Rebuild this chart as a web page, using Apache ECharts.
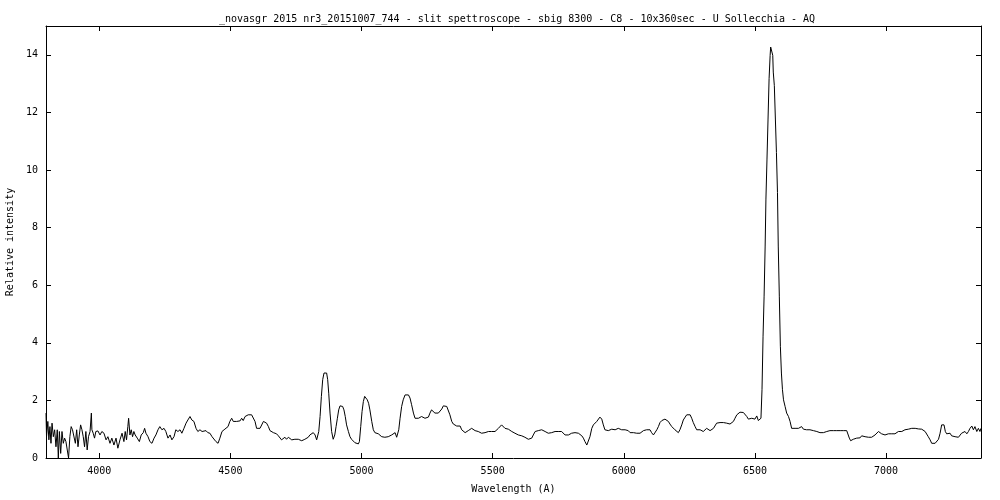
<!DOCTYPE html>
<html><head><meta charset="utf-8">
<script src="https://cdn.jsdelivr.net/npm/echarts/dist/echarts.min.js"></script>
<style>html,body{margin:0;padding:0;background:#fff}#c{width:1000px;height:500px}</style>
</head><body><div id="c"></div>
<script>
const titleText = "_novasgr 2015 nr3_20151007_744 - slit spettroscope - sbig 8300 - C8 - 10x360sec - U Sollecchia - AQ";
const xAxisName = "Wavelength (A)";
const yAxisName = "Relative intensity";
const xRange = [3797, 7362];
const yRange = [0, 15];

const wavelength = [
3797,3799,3804,3808,3812,3816,3820,3825,3830,3835,3840,3844,3848,3853,3858,3863,3868,3873,3878,3883,
3888,3893,3898,3904,3909,3914,3919,3924,3929,3934,3939,3944,3949,3954,3959,3965,3970,3972,3977,3982,
3987,3995,4003,4010,4018,4026,4033,4041,4048,4056,4064,4071,4079,4087,4094,4099,4104,4109,4112,4117,
4122,4127,4132,4137,4145,4153,4160,4168,4173,4178,4186,4193,4201,4209,4216,4224,4231,4239,4247,4254,
4262,4270,4277,4285,4292,4300,4308,4315,4323,4331,4338,4346,4353,4361,4369,4376,4384,4392,4399,4407,
4414,4422,4430,4437,4445,4453,4460,4468,4476,4483,4491,4498,
4505,4511,4517,4524,4530,4537,4543,4549,4556,4562,4568,4575,4581,4587,4594,4600,4606,4613,4619,4626,
4632,4638,4645,4651,4657,4664,4670,4676,4683,4689,4695,4702,4708,4714,4721,4727,4734,4740,4746,4753,
4759,4765,4772,4778,4784,4791,4797,4803,4810,4816,4823,4829,4833,4837,4842,4847,4852,4857,4862,4867,
4871,4875,4880,4886,4892,4898,4903,4908,4913,4918,4923,4928,4933,4938,4943,4950,4956,4962,4969,4975,
4981,4988,4992,4997,5002,5007,5012,5017,5022,5027,5032,5039,5045,5051,5058,5064,5070,5077,5083,5089,
5096,5102,5109,5115,5121,5128,5134,5138,5142,5147,5153,5159,5166,5172,5179,5185,5191,5198,
5204,5210,5217,5223,5229,5236,5242,5248,5255,5261,5267,5274,5280,5287,5293,5299,5306,5312,5318,5325,
5331,5337,5344,5350,5356,5363,5369,5376,5382,5388,5395,5401,5407,5414,5420,5426,5433,5439,5445,5452,
5458,5465,5471,5477,5484,5490,5496,5503,5509,5515,5522,5528,5534,5541,5547,5553,5560,5566,5573,5579,
5585,5592,5598,5604,5611,5617,5623,5630,5636,5642,5649,5655,5662,5668,5674,5681,5687,5693,5700,5706,
5712,5719,5725,5731,5738,5744,5750,5757,5763,5770,5776,5782,5789,5795,5801,5808,5814,5820,5827,5833,
5840,5846,5852,5859,5865,5871,5878,5884,5890,5897,5903,5909,5916,5922,
5928,5935,5941,5948,5954,5960,5967,5973,5979,5986,5992,5998,6005,6011,6017,6024,6030,6037,6043,6049,
6056,6062,6068,6075,6081,6087,6094,6100,6106,6113,6119,6126,6132,6138,6145,6151,6157,6164,6170,6176,
6183,6189,6195,6202,6208,6214,6221,6227,6234,6240,6246,6253,6259,6265,6272,6278,6284,6291,6297,6303,
6310,6316,6323,6329,6335,6342,6348,6354,6361,6367,6373,6380,6386,6392,6399,6405,6411,6418,6424,6431,
6437,6443,6450,6456,6462,6469,6475,6481,6488,6494,6500,6507,6513,
6520,6523,6527,6531,6535,6539,6542,6546,6550,6554,6558,6560,6563,6565,6568,6570,6574,6578,6582,6586,
6589,6593,6597,6601,6605,6609,6615,6621,6628,6634,
6640,6647,6653,6659,6666,6672,6678,6685,6691,6697,6704,6710,6717,6723,6729,6736,6742,6748,6755,6761,
6767,6774,6780,6786,6793,6799,6806,6812,6818,6825,6831,6837,6844,6850,6856,6860,6865,6870,6875,6882,
6888,6894,6901,6907,6914,6920,6926,6933,6939,6945,6952,6958,6964,6971,6977,6983,6990,6996,7002,7009,
7015,7022,7028,7034,7041,7047,7053,7060,7066,7072,7079,7085,7092,7098,7104,7111,7117,7123,7130,7136,
7142,7149,7155,7161,7168,7174,7180,7187,7193,7200,7206,7212,7216,7221,7226,7231,7238,7244,7250,7257,
7263,7269,7276,7282,7288,7295,7301,7308,7314,7320,7327,7333,7339,7346,7352,7358,7362
];

const intensity = [
1.56,0.74,1.27,0.63,1.09,0.51,1.21,0.74,0.98,0.39,0.98,0.00,0.92,0.16,0.92,0.51,0.69,0.57,0.63,0.00,
0.74,1.09,0.98,0.92,0.51,0.98,0.39,0.80,1.15,0.98,0.74,0.39,0.92,0.28,0.74,0.92,1.56,0.98,0.86,0.69,
0.92,0.94,0.80,0.92,0.86,0.63,0.74,0.51,0.69,0.45,0.69,0.34,0.63,0.86,0.57,0.92,0.63,1.09,1.38,0.80,
0.98,0.74,0.92,0.80,0.69,0.57,0.80,0.88,1.03,0.86,0.74,0.57,0.51,0.69,0.80,0.98,1.09,0.98,1.03,0.92,
0.69,0.80,0.63,0.74,0.98,0.92,0.98,0.86,1.03,1.21,1.32,1.44,1.32,1.27,1.03,0.92,0.98,0.92,0.94,0.95,
0.88,0.86,0.74,0.69,0.57,0.51,0.69,0.92,0.98,1.03,1.09,1.27,
1.38,1.27,1.32,1.27,1.32,1.29,1.38,1.30,1.44,1.46,1.50,1.46,1.50,1.44,1.27,1.03,0.98,1.03,0.98,1.27,
1.29,1.21,1.09,0.95,0.92,0.88,0.86,0.84,0.77,0.72,0.63,0.57,0.72,0.65,0.72,0.69,0.63,0.69,0.65,0.60,
0.65,0.63,0.60,0.65,0.65,0.69,0.72,0.80,0.86,0.88,0.80,0.63,0.57,0.92,1.44,2.14,2.72,2.95,3.01,2.95,
2.72,2.25,1.56,0.92,0.65,0.80,1.09,1.38,1.67,1.81,1.85,1.79,1.67,1.44,1.15,0.92,0.74,0.65,0.59,0.53,
0.51,0.49,0.57,1.09,1.61,1.96,2.14,2.11,2.02,1.90,1.67,1.27,0.98,0.88,0.86,0.84,0.80,0.74,0.77,0.72,
0.77,0.74,0.77,0.80,0.84,0.88,0.72,0.69,0.98,1.38,1.79,2.02,2.19,2.25,2.19,2.08,1.85,1.56,
1.38,1.32,1.38,1.35,1.44,1.42,1.38,1.32,1.42,1.56,1.67,1.65,1.56,1.50,1.56,1.53,1.70,1.81,1.82,1.79,
1.73,1.50,1.27,1.18,1.15,1.11,1.09,1.11,0.98,0.92,0.88,0.92,0.95,0.98,1.03,0.98,0.95,0.98,0.92,0.88,
0.86,0.88,0.88,0.88,0.92,0.92,0.92,0.88,0.92,0.98,1.03,1.09,1.15,1.11,1.03,0.98,1.00,0.95,0.92,0.95,
0.86,0.88,0.80,0.84,0.77,0.80,0.72,0.74,0.65,0.60,0.69,0.80,0.92,0.98,0.95,0.98,0.98,0.98,0.92,0.95,
0.86,0.84,0.88,0.86,0.92,0.88,0.92,0.94,0.92,0.86,0.80,0.84,0.80,0.84,0.86,0.86,0.88,0.84,0.86,0.88,
0.77,0.69,0.57,0.45,0.51,0.74,1.03,1.15,1.15,1.27,1.32,1.42,1.35,1.15,
0.98,1.03,0.95,0.98,1.00,0.95,0.98,1.00,1.03,1.00,0.98,1.01,0.98,0.92,0.95,0.88,0.92,0.88,0.92,0.86,
0.88,0.86,0.92,0.95,0.92,0.98,0.95,0.98,0.88,0.80,0.86,0.98,1.09,1.23,1.30,1.35,1.35,1.30,1.27,1.18,
1.09,1.03,0.98,0.92,0.88,0.98,1.15,1.32,1.42,1.50,1.53,1.50,1.38,1.23,1.09,0.98,1.00,0.98,0.95,0.92,
0.95,1.03,1.07,0.95,0.98,1.03,1.09,1.21,1.24,1.23,1.25,1.23,1.24,1.21,1.23,1.18,1.23,1.27,1.38,1.50,
1.56,1.59,1.59,1.58,1.56,1.44,1.35,1.32,1.38,1.32,1.35,1.46,1.30,
1.27,1.38,2.37,4.23,5.62,7.36,8.99,10.38,11.77,13.17,13.98,14.27,14.33,14.27,13.98,13.40,12.93,11.77,10.61,9.22,
7.36,5.62,3.88,2.95,2.37,2.02,1.79,1.56,1.44,1.27,
1.03,0.98,1.03,1.09,1.03,1.07,1.09,1.00,1.03,0.98,1.00,0.98,1.00,0.95,0.98,0.92,0.95,0.88,0.92,0.88,
0.94,0.92,0.98,0.95,0.98,0.95,0.98,0.95,0.98,0.95,0.98,0.95,0.98,0.95,0.92,0.69,0.60,0.57,0.65,0.65,
0.69,0.72,0.70,0.77,0.80,0.74,0.69,0.72,0.71,0.72,0.74,0.80,0.84,0.92,0.88,0.84,0.86,0.80,0.84,0.84,
0.84,0.84,0.84,0.84,0.84,0.92,0.94,0.92,0.95,0.98,0.95,1.00,0.98,1.03,1.00,1.03,0.98,1.01,0.95,1.00,
0.98,0.92,0.88,0.74,0.63,0.51,0.49,0.51,0.57,0.65,0.86,1.15,1.18,1.15,0.92,0.84,0.80,0.86,0.77,0.80,
0.74,0.80,0.72,0.77,0.86,0.84,0.92,0.84,0.92,1.03,1.11,0.98,1.09,0.92,1.03,0.92,1.03
];

const FONT = '"DejaVu Sans Mono", monospace';
const txt = { color: '#000', fontFamily: FONT, fontSize: 10 };
const chart = echarts.init(document.getElementById('c'), null, { renderer: 'canvas' });

function axisCommon(extra) {
  return Object.assign({
    type: 'value',
    gridIndex: 0,
    axisLine: { show: true, onZero: false, lineStyle: { color: '#000', width: 1 } },
    axisTick: { show: true, inside: true, length: 5, lineStyle: { color: '#000', width: 1 } },
    splitLine: { show: false },
    minorTick: { show: false }
  }, extra);
}

chart.setOption({
  animation: false,
  backgroundColor: '#fff',
  title: {
    text: titleText,
    left: 214, top: 9,
    textStyle: Object.assign({ fontWeight: 'normal' }, txt)
  },
  grid: { left: 46, right: 19, top: 26, bottom: 42, containLabel: false, outerBoundsMode: 'none' },
  xAxis: [
    axisCommon({
      position: 'bottom', min: xRange[0], max: xRange[1], splitNumber: 7,
      axisLabel: Object.assign({ margin: 8, formatter: v => (v % 500 === 0 ? String(v) : '') }, txt),
      name: xAxisName, nameLocation: 'middle', nameGap: 26, nameTextStyle: txt
    }),
    axisCommon({
      position: 'top', min: xRange[0], max: xRange[1], splitNumber: 7,
      axisLabel: { show: false }
    })
  ],
  yAxis: [
    axisCommon({
      position: 'left', min: yRange[0], max: yRange[1], interval: 2,
      axisLabel: Object.assign({ margin: 8, formatter: v => (v % 2 === 0 ? String(v) : '') }, txt),
      name: yAxisName, nameLocation: 'middle', nameGap: 28, nameRotate: 90, nameTextStyle: txt
    }),
    axisCommon({
      position: 'right', min: yRange[0], max: yRange[1], interval: 2,
      axisLabel: { show: false }
    })
  ],
  series: [{
    type: 'line',
    xAxisIndex: 0, yAxisIndex: 0,
    data: wavelength.map((w, i) => [w, intensity[i]]),
    showSymbol: false, symbol: 'none',
    lineStyle: { color: '#000', width: 1 },
    itemStyle: { color: '#000' },
    smooth: false,
    clip: true
  }]
});
</script>
</body></html>
